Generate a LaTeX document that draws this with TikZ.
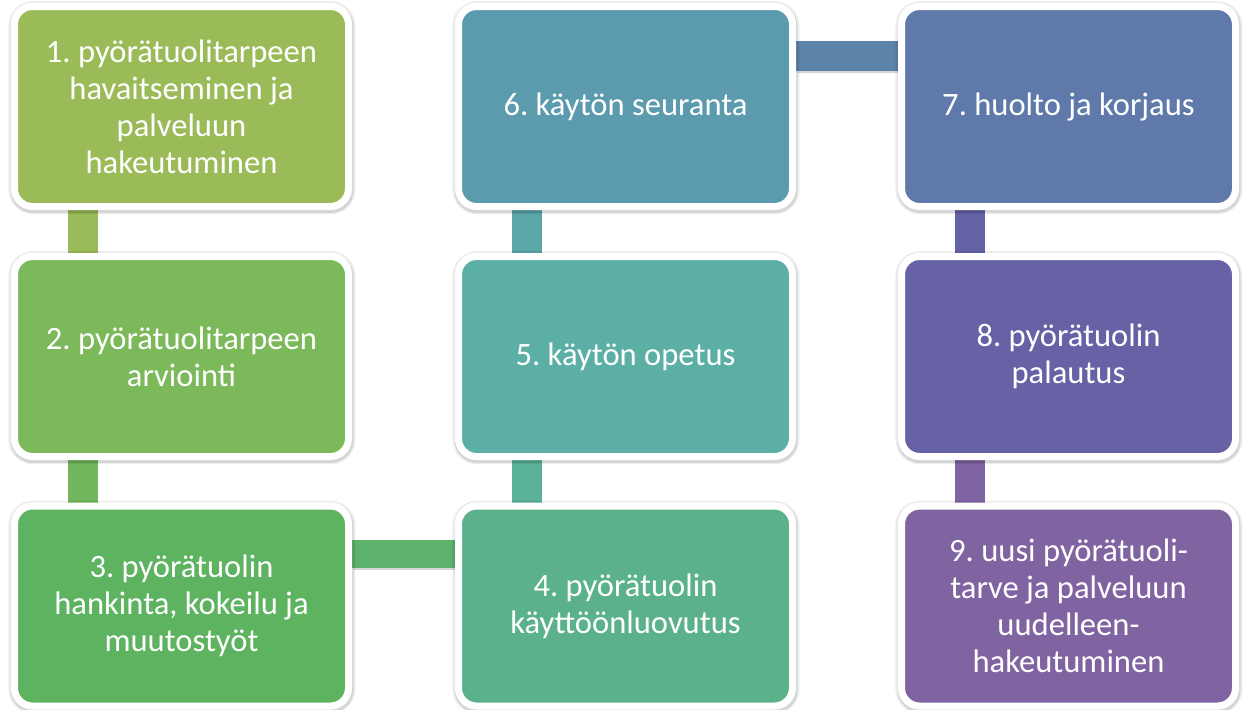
\documentclass[tikz,border=0pt]{standalone}
\usepackage{fontspec}
\setmainfont{Carlito}
\frenchspacing
\usetikzlibrary{shadows,backgrounds}
\definecolor{c1}{HTML}{9BBB59}
\definecolor{c2}{HTML}{7BB95A}
\definecolor{c3}{HTML}{5DB360}
\definecolor{c4}{HTML}{5BB28A}
\definecolor{c5}{HTML}{5CAFA5}
\definecolor{c6}{HTML}{5C9AAD}
\definecolor{c7}{HTML}{5F7AAA}
\definecolor{c8}{HTML}{6762A5}
\definecolor{c9}{HTML}{8064A2}
\definecolor{k12}{HTML}{9ABB59}
\definecolor{k23}{HTML}{72B75D}
\definecolor{k34}{HTML}{5DB36B}
\definecolor{k45}{HTML}{5BB29A}
\definecolor{k56}{HTML}{5BA6A9}
\definecolor{k67}{HTML}{5D84A8}
\definecolor{k78}{HTML}{6462A5}
\definecolor{k89}{HTML}{7F64A2}
\tikzset{
  stepbox/.style={draw=white, line width=3.5pt, rounded corners=9pt,
    minimum width=167pt, minimum height=100pt, inner sep=0pt,
    text=white, align=center,
    font=\fontsize{16.3pt}{18.5pt}\selectfont,
    drop shadow={shadow xshift=0.2pt, shadow yshift=-0.6pt, opacity=0.07, fill=black, draw=black, line width=6.5pt},
    drop shadow={shadow xshift=0.3pt, shadow yshift=-0.9pt, opacity=0.10, fill=black, draw=black, line width=4.6pt}},
  barv/.style={drop shadow={shadow xshift=0.3pt, shadow yshift=-1pt, opacity=0.16, fill=black}},
}
\begin{document}
\begin{tikzpicture}[x=0.5pt,y=-0.5pt]
\useasboundingbox (0,0) rectangle (1247,709);
\node[stepbox, fill=c1] (b1) at (181.5,106.5) {1. pyörätuolitarpeen\\havaitseminen ja\\palveluun\\hakeutuminen};
\node[stepbox, fill=c2] (b2) at (181.5,356.5) {2. pyörätuolitarpeen\\arviointi};
\node[stepbox, fill=c3] (b3) at (181.5,606) {3. pyörätuolin\\hankinta, kokeilu ja\\muutostyöt};
\node[stepbox, fill=c4] (b4) at (625.5,606) {4. pyörätuolin\\käyttöönluovutus};
\node[stepbox, fill=c5] (b5) at (625.5,356.5) {5. käytön opetus};
\node[stepbox, fill=c6] (b6) at (625.5,106.5) {6. käytön seuranta};
\node[stepbox, fill=c7] (b7) at (1068.5,106.5) {7. huolto ja korjaus};
\node[stepbox, fill=c8] (b8) at (1068.5,356.5) {8. pyörätuolin\\palautus};
\node[stepbox, fill=c9] (b9) at (1068.5,606) {9. uusi pyörätuoli-\\tarve ja palveluun\\uudelleen-\\hakeutuminen};
\begin{pgfonlayer}{background}
\fill[k12, barv] ([xshift=-57pt]b1.south) rectangle ([xshift=-42pt]b2.north);
\fill[k23, barv] ([xshift=-57pt]b2.south) rectangle ([xshift=-42pt]b3.north);
\fill[k34, barv] ([yshift=33pt]b3.east) rectangle ([yshift=19pt]b4.west);
\fill[k45, barv] ([xshift=-57pt]b4.north) rectangle ([xshift=-42pt]b5.south);
\fill[k56, barv] ([xshift=-57pt]b5.north) rectangle ([xshift=-42pt]b6.south);
\fill[k67, barv] ([yshift=33pt]b6.east) rectangle ([yshift=18pt]b7.west);
\fill[k78, barv] ([xshift=-57pt]b7.south) rectangle ([xshift=-42pt]b8.north);
\fill[k89, barv] ([xshift=-57pt]b8.south) rectangle ([xshift=-42pt]b9.north);
\end{pgfonlayer}
\end{tikzpicture}
\end{document}
